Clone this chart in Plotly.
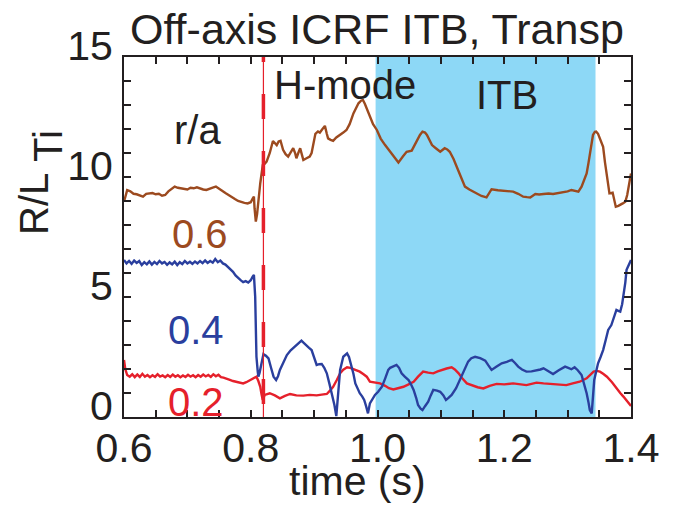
import plotly.graph_objects as go

# R/L_Ti traces from TRANSP at three radii (r/a = 0.6, 0.4, 0.2)
t_06 = [0.600, 0.605, 0.610, 0.615, 0.620, 0.625, 0.630, 0.635, 0.640, 0.645, 0.650, 0.655, 0.660, 0.665,
        0.670, 0.675, 0.680, 0.685, 0.690, 0.695, 0.700, 0.705, 0.710, 0.715, 0.720, 0.725, 0.730, 0.735,
        0.740, 0.745, 0.750, 0.755, 0.760, 0.765, 0.770, 0.775, 0.780, 0.785, 0.790, 0.795, 0.800, 0.803,
        0.805, 0.806, 0.808, 0.810, 0.812, 0.815, 0.819, 0.822, 0.825, 0.830, 0.835, 0.838, 0.841, 0.844,
        0.847, 0.851, 0.855, 0.859, 0.863, 0.867, 0.870, 0.872, 0.875, 0.878, 0.881, 0.883, 0.888, 0.893,
        0.896, 0.899, 0.902, 0.906, 0.909, 0.912, 0.915, 0.917, 0.920, 0.922, 0.926, 0.930, 0.935, 0.941,
        0.946, 0.951, 0.956, 0.962, 0.966, 0.970, 0.974, 0.977, 0.980, 0.983, 0.988, 0.993, 0.999, 1.005,
        1.012, 1.017, 1.022, 1.028, 1.033, 1.040, 1.046, 1.054, 1.058, 1.062, 1.067, 1.071, 1.075, 1.078,
        1.082, 1.086, 1.092, 1.099, 1.106, 1.110, 1.114, 1.120, 1.125, 1.132, 1.138, 1.145, 1.151, 1.158,
        1.164, 1.172, 1.176, 1.180, 1.190, 1.198, 1.206, 1.214, 1.222, 1.230, 1.236, 1.241, 1.249, 1.255,
        1.262, 1.270, 1.277, 1.285, 1.293, 1.300, 1.306, 1.312, 1.317, 1.322, 1.326, 1.330, 1.333, 1.335,
        1.338, 1.340, 1.343, 1.345, 1.348, 1.351, 1.356, 1.359, 1.362, 1.366, 1.371, 1.374, 1.376, 1.380,
        1.383, 1.387, 1.391, 1.394, 1.397, 1.400]
rlt_06 = [8.97, 9.45, 9.40, 9.30, 9.28, 9.22, 9.18, 9.30, 9.32, 9.33, 9.28, 9.30, 9.22, 9.25,
          9.40, 9.50, 9.60, 9.55, 9.52, 9.50, 9.48, 9.55, 9.53, 9.57, 9.52, 9.48, 9.46, 9.52,
          9.56, 9.60, 9.50, 9.40, 9.33, 9.25, 9.15, 9.08, 9.00, 8.95, 8.92, 8.90, 8.95, 9.10,
          9.18, 8.70, 8.14, 8.45, 9.00, 9.74, 10.50, 10.55, 10.64, 11.00, 11.50, 11.40, 11.33, 11.48,
          11.51, 11.13, 10.95, 10.85, 11.00, 11.20, 11.00, 10.78, 11.00, 11.20, 10.90, 10.71, 10.78, 10.85,
          11.00, 11.40, 11.80, 11.90, 11.85, 11.96, 12.05, 12.13, 11.80, 11.61, 11.55, 11.51, 11.65, 11.75,
          11.85, 11.96, 12.20, 12.65, 12.85, 13.07, 13.18, 13.21, 13.05, 12.86, 12.58, 12.20, 11.96, 11.60,
          11.33, 11.15, 10.99, 10.80, 10.60, 10.85, 11.05, 11.10, 11.30, 11.54, 11.75, 11.89, 11.85, 11.75,
          11.50, 11.33, 11.20, 11.05, 11.20, 11.15, 11.05, 10.75, 10.43, 10.00, 9.60, 9.48, 9.39, 9.30,
          9.21, 9.15, 9.30, 9.49, 9.45, 9.43, 9.42, 9.39, 9.30, 9.18, 9.16, 9.15, 9.29, 9.27,
          9.29, 9.31, 9.29, 9.33, 9.35, 9.40, 9.46, 9.42, 9.39, 9.60, 9.85, 10.15, 10.60, 10.99,
          11.50, 11.75, 11.88, 11.89, 11.80, 11.61, 11.26, 10.60, 10.01, 9.32, 9.35, 9.00, 8.76, 8.80,
          8.83, 8.90, 8.97, 9.25, 9.70, 10.15]

t_04 = [0.600, 0.604, 0.608, 0.612, 0.616, 0.620, 0.624, 0.628, 0.632, 0.636, 0.640, 0.644, 0.648, 0.652,
        0.656, 0.660, 0.664, 0.668, 0.672, 0.676, 0.680, 0.684, 0.688, 0.692, 0.696, 0.700, 0.704, 0.708,
        0.712, 0.716, 0.720, 0.724, 0.728, 0.732, 0.736, 0.740, 0.744, 0.748, 0.752, 0.756, 0.760, 0.764,
        0.768, 0.772, 0.776, 0.780, 0.784, 0.788, 0.792, 0.796, 0.800, 0.803, 0.805, 0.807, 0.808, 0.809,
        0.811, 0.812, 0.814, 0.816, 0.818, 0.820, 0.824, 0.828, 0.832, 0.836, 0.840, 0.843, 0.846, 0.850,
        0.857, 0.863, 0.870, 0.876, 0.880, 0.884, 0.888, 0.892, 0.896, 0.900, 0.904, 0.908, 0.912, 0.916,
        0.920, 0.924, 0.928, 0.932, 0.935, 0.938, 0.941, 0.946, 0.949, 0.952, 0.955, 0.958, 0.962, 0.965,
        0.968, 0.972, 0.976, 0.979, 0.982, 0.985, 0.988, 0.993, 0.996, 1.001, 1.007, 1.012, 1.017, 1.020,
        1.025, 1.030, 1.034, 1.038, 1.043, 1.049, 1.053, 1.057, 1.061, 1.064, 1.068, 1.071, 1.075, 1.080,
        1.084, 1.088, 1.094, 1.099, 1.104, 1.108, 1.112, 1.117, 1.124, 1.130, 1.137, 1.143, 1.148, 1.154,
        1.162, 1.170, 1.175, 1.180, 1.188, 1.196, 1.204, 1.212, 1.217, 1.222, 1.228, 1.235, 1.243, 1.251,
        1.257, 1.262, 1.270, 1.277, 1.286, 1.296, 1.301, 1.306, 1.311, 1.316, 1.322, 1.326, 1.330, 1.333,
        1.335, 1.338, 1.340, 1.342, 1.345, 1.348, 1.352, 1.356, 1.360, 1.364, 1.369, 1.373, 1.377, 1.380,
        1.383, 1.386, 1.388, 1.391, 1.393, 1.396, 1.400]
rlt_04 = [6.54, 6.40, 6.50, 6.38, 6.52, 6.42, 6.50, 6.33, 6.45, 6.36, 6.48, 6.35, 6.46, 6.37,
          6.50, 6.40, 6.46, 6.34, 6.44, 6.36, 6.47, 6.33, 6.45, 6.37, 6.50, 6.40, 6.47, 6.38,
          6.48, 6.40, 6.50, 6.41, 6.52, 6.42, 6.50, 6.43, 6.58, 6.45, 6.52, 6.40, 6.35, 6.25,
          6.18, 6.05, 5.90, 5.78, 5.70, 5.62, 5.66, 5.60, 5.70, 5.85, 5.92, 5.01, 3.80, 2.51,
          1.90, 1.68, 1.85, 2.10, 2.45, 2.62, 2.55, 2.44, 2.05, 1.68, 1.54, 1.70, 1.96, 2.20,
          2.58, 2.78, 2.93, 3.08, 3.18, 3.08, 2.96, 2.88, 2.79, 2.50, 2.17, 2.20, 2.21, 2.05,
          1.82, 1.40, 0.99, 0.50, 0.04, 0.90, 1.96, 2.51, 2.60, 2.65, 2.50, 2.24, 1.80, 1.40,
          1.20, 0.99, 0.85, 0.71, 0.45, 0.15, 0.57, 0.78, 0.92, 1.05, 1.26, 1.60, 1.96, 2.05,
          2.12, 2.17, 2.05, 1.82, 1.68, 1.54, 1.35, 1.13, 0.80, 0.50, 0.35, 0.29, 0.45, 0.64,
          0.90, 1.13, 1.10, 1.05, 0.90, 0.71, 0.80, 0.92, 1.20, 1.54, 1.95, 2.31, 2.45, 2.51,
          2.45, 2.35, 2.15, 1.96, 2.10, 2.24, 2.30, 2.38, 2.25, 2.10, 1.98, 1.89, 1.90, 1.93,
          1.98, 2.03, 1.90, 1.79, 1.95, 2.10, 2.05, 1.99, 2.07, 1.95, 1.75, 1.40, 0.99, 0.60,
          0.29, 0.15, 0.80, 1.54, 1.90, 2.24, 2.50, 2.79, 3.20, 3.63, 3.83, 4.20, 4.46, 4.42,
          4.39, 4.70, 5.01, 5.60, 6.13, 6.30, 6.54]

t_02 = [0.600, 0.602, 0.605, 0.609, 0.613, 0.617, 0.621, 0.625, 0.629, 0.633, 0.637, 0.641, 0.645, 0.649,
        0.653, 0.657, 0.661, 0.665, 0.669, 0.673, 0.677, 0.681, 0.685, 0.689, 0.693, 0.697, 0.701, 0.705,
        0.709, 0.713, 0.717, 0.721, 0.725, 0.729, 0.733, 0.737, 0.741, 0.745, 0.749, 0.753, 0.757, 0.762,
        0.767, 0.772, 0.778, 0.783, 0.788, 0.793, 0.799, 0.804, 0.809, 0.812, 0.815, 0.817, 0.819, 0.822,
        0.826, 0.830, 0.838, 0.846, 0.854, 0.862, 0.872, 0.883, 0.893, 0.904, 0.912, 0.920, 0.925, 0.930,
        0.936, 0.941, 0.946, 0.952, 0.957, 0.962, 0.967, 0.972, 0.978, 0.983, 0.988, 0.996, 1.004, 1.012,
        1.018, 1.025, 1.033, 1.041, 1.049, 1.057, 1.064, 1.072, 1.080, 1.088, 1.095, 1.101, 1.109, 1.117,
        1.122, 1.128, 1.134, 1.141, 1.150, 1.158, 1.167, 1.177, 1.188, 1.200, 1.214, 1.225, 1.235, 1.243,
        1.251, 1.262, 1.272, 1.285, 1.298, 1.308, 1.319, 1.330, 1.336, 1.341, 1.346, 1.351, 1.356, 1.362,
        1.370, 1.377, 1.383, 1.388, 1.394, 1.400]
rlt_02 = [2.38, 2.00, 1.75, 1.68, 1.78, 1.66, 1.77, 1.67, 1.80, 1.68, 1.75, 1.66, 1.74, 1.67,
          1.78, 1.68, 1.73, 1.66, 1.75, 1.67, 1.77, 1.68, 1.74, 1.66, 1.73, 1.67, 1.76, 1.68,
          1.74, 1.66, 1.75, 1.68, 1.77, 1.69, 1.75, 1.67, 1.78, 1.70, 1.76, 1.66, 1.64, 1.61,
          1.55, 1.50, 1.47, 1.42, 1.40, 1.45, 1.54, 1.60, 1.68, 1.50, 1.26, 0.95, 0.71, 0.92,
          0.97, 0.99, 0.90, 0.78, 0.88, 0.96, 0.90, 0.89, 0.92, 0.90, 0.93, 0.96, 1.10, 1.26,
          1.55, 1.82, 1.97, 2.07, 2.05, 1.99, 1.95, 1.89, 1.78, 1.68, 1.47, 1.42, 1.40, 1.30,
          1.20, 1.15, 1.20, 1.26, 1.36, 1.47, 1.68, 1.89, 1.85, 1.82, 1.90, 1.96, 2.02, 2.07,
          1.98, 1.82, 1.60, 1.40, 1.30, 1.24, 1.19, 1.30, 1.38, 1.36, 1.40, 1.36, 1.33, 1.38,
          1.43, 1.40, 1.38, 1.35, 1.33, 1.40, 1.47, 1.61, 1.75, 1.89, 1.92, 1.89, 1.80, 1.68,
          1.45, 1.19, 1.00, 0.85, 0.65, 0.46]

# Phase markers (s)
t_hmode = 0.82
itb_window = [0.997, 1.344]

x_ticks = [0.6, 0.8, 1.0, 1.2, 1.4]
y_ticks = [0, 5, 10, 15]

BROWN = "#9C4A1F"
BLUE = "#2A3F9E"
RED = "#E5202B"
INK = "#231F20"
SHADE = "#8DD8F6"
FONT = "Liberation Sans, Arial, sans-serif"

fig = go.Figure()

fig.add_trace(go.Scatter(x=t_06, y=rlt_06, mode="lines", line=dict(color=BROWN, width=2.4), showlegend=False))
fig.add_trace(go.Scatter(x=t_02, y=rlt_02, mode="lines", line=dict(color=RED, width=2.4), showlegend=False))
fig.add_trace(go.Scatter(x=t_04, y=rlt_04, mode="lines", line=dict(color=BLUE, width=2.4), showlegend=False))

# L-H transition: thin solid line with a dashed overlay
fig.add_trace(go.Scatter(x=[t_hmode, t_hmode], y=[15, 0], mode="lines",
                         line=dict(color=RED, width=1.2), showlegend=False, hoverinfo="skip"))
fig.add_trace(go.Scatter(x=[t_hmode, t_hmode], y=[15.83, 0], mode="lines",
                         line=dict(color=RED, width=3.5, dash="25px,32px"), showlegend=False, hoverinfo="skip"))

# ITB window
fig.add_shape(type="rect", xref="x", yref="y", x0=itb_window[0], x1=itb_window[1], y0=0, y1=15,
              fillcolor=SHADE, line=dict(width=0), layer="below")

axis_common = dict(showline=True, linecolor=INK, linewidth=2, mirror="allticks", ticks="inside",
                   ticklen=7, tickwidth=1.6, tickcolor=INK, showgrid=False, zeroline=False,
                   tickfont=dict(family=FONT, size=41, color=INK))

fig.update_xaxes(range=[0.6, 1.4], tickvals=x_ticks, tickformat=".1f", ticklabelstandoff=-6,
                 minor=dict(dtick=0.05, ticks="inside", ticklen=7, tickwidth=1.6, tickcolor=INK),
                 **axis_common)
fig.update_yaxes(range=[0, 15], autorange=False, tickvals=y_ticks, ticklabelstandoff=1, ticklabelshift=-11,
                 minor=dict(dtick=1, ticks="inside", ticklen=7, tickwidth=1.6, tickcolor=INK),
                 **axis_common)

def label(text, x, y, color=INK, size=40, angle=0):
    fig.add_annotation(text=text, x=x, y=y, xref="paper", yref="paper", xanchor="center", yanchor="middle",
                       showarrow=False, textangle=angle, font=dict(family=FONT, size=size, color=color))

W, H = 678, 505
L, R, T, B = 124, 47, 57, 88
pw, ph = W - L - R, H - T - B

def px(xp, yp):
    return (xp - L) / pw, (H - B - yp) / ph

label("Off-axis ICRF ITB, Transp", *px(377, 29), size=43)
label("r/a", *px(197, 130))
label("H-mode", *px(345, 85))
label("ITB", *px(507, 95))
label("0.6", *px(200, 234), color=BROWN)
label("0.4", *px(196, 330), color=BLUE)
label("0.2", *px(196, 402), color=RED)
label("time (s)", *px(357, 481), size=41)
label("R/L", *px(34, 204), angle=-90)
label("Ti", *px(48, 146), angle=-90)

fig.update_layout(width=W, height=H, margin=dict(l=L, r=R, t=T, b=B),
                  paper_bgcolor="white", plot_bgcolor="white",
                  font=dict(family=FONT, color=INK))

fig.write_html("out.html")
